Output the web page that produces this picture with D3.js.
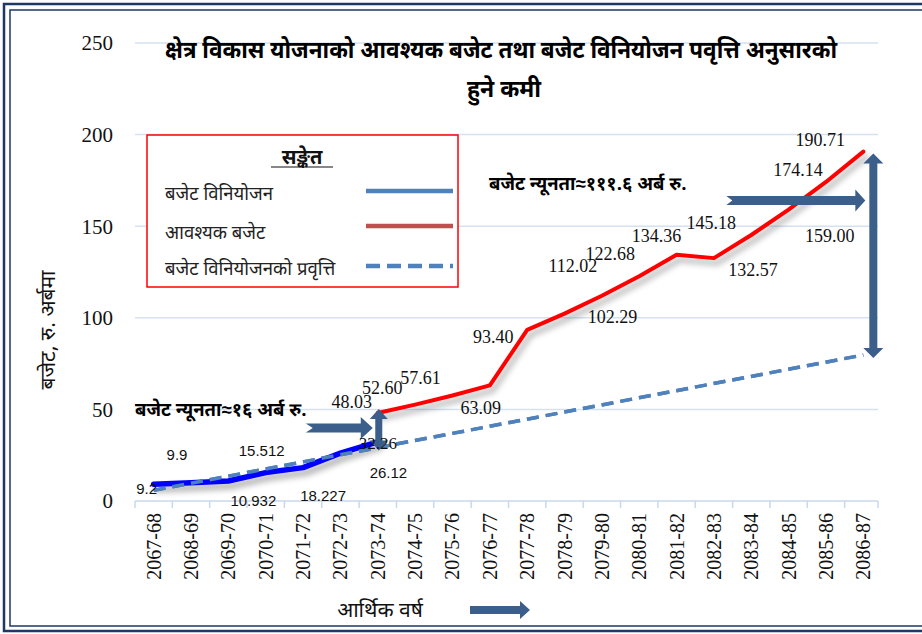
<!DOCTYPE html>
<html><head><meta charset="utf-8">
<script src="https://cdn.jsdelivr.net/npm/d3@7"></script>
<style>
html,body{margin:0;padding:0;background:#fff;}
svg{display:block;}
</style></head>
<body>
<script>
// ---------- DATA ----------
const categories = ["2067-68","2068-69","2069-70","2070-71","2071-72","2072-73","2073-74","2074-75","2075-76","2076-77","2077-78","2078-79","2079-80","2080-81","2081-82","2082-83","2083-84","2084-85","2085-86","2086-87"];
const allocCategories = ["2067-68","2068-69","2069-70","2070-71","2071-72","2072-73","2073-74"];
const allocValues = [9.2, 9.9, 10.932, 15.512, 18.227, 26.12, 32.26];
const allocLabels = ["9.2","9.9","10.932","15.512","18.227","26.12","32.26"];
const reqCategories = ["2073-74","2074-75","2075-76","2076-77","2077-78","2078-79","2079-80","2080-81","2081-82","2082-83","2083-84","2084-85","2085-86","2086-87"];
const reqValues = [48.03, 52.60, 57.61, 63.09, 93.40, 102.29, 112.02, 122.68, 134.36, 132.57, 145.18, 159.00, 174.14, 190.71];
const reqLabels = ["48.03","52.60","57.61","63.09","93.40","102.29","112.02","122.68","134.36","132.57","145.18","159.00","174.14","190.71"];
const trendCategories = ["2067-68","2086-87"];
const trendValues = [5.8, 79.7];
const yTicks = [0, 50, 100, 150, 200, 250];
const titleLines = ["क्षेत्र विकास योजनाको आवश्यक बजेट तथा बजेट विनियोजन पवृत्ति अनुसारको", "हुने कमी"];
const legendTitle = "सङ्केत";
const legendNames = ["बजेट विनियोजन", "आवश्यक बजेट", "बजेट विनियोजनको प्रवृत्ति"];
const yTitle = "बजेट, रु. अर्बमा";
const xTitle = "आर्थिक वर्ष";
const gapNote1 = "बजेट न्यूनता≈१६ अर्ब रु.";
const gapNote2 = "बजेट न्यूनता≈१११.६ अर्ब रु.";

// ---------- LAYOUT (label offsets, px) ----------
const allocLabelOffsets = [[-7,5],[-14,-28],[25,20],[-4,-22],[20,28],[48,20],[0,1]];
const reqLabelOffsets = [[-26,-11],[-33,-17],[-32,-18],[-9,22],[-34,7],[48,3],[-29,-30],[-29,-23],[-20,-19],[39,12],[-40,-12],[41,26],[-28,-12],[-43,-12]];

const W = 922, H = 634;
const DEV = "'Noto Sans Devanagari','Lohit Devanagari','Noto Sans',sans-serif";
const SERIF = "'Liberation Serif','Times New Roman',serif";
const SANS = "'Liberation Sans',Arial,sans-serif";

const svg = d3.select("body").append("svg").attr("width", W).attr("height", H);
const defs = svg.append("defs");
const f = defs.append("filter").attr("id","shadow").attr("x","-10%").attr("y","-20%").attr("width","130%").attr("height","160%");
f.append("feDropShadow").attr("dx",3).attr("dy",5).attr("stdDeviation",3).attr("flood-color","#000").attr("flood-opacity",0.35);

svg.append("rect").attr("width",W).attr("height",H).attr("fill","#fff");
// double border
svg.append("rect").attr("x",4).attr("y",4).attr("width",W+20).attr("height",H-7).attr("fill","none").attr("stroke","#1f3864").attr("stroke-width",2.5);
svg.append("rect").attr("x",10).attr("y",10).attr("width",W+20).attr("height",H-18).attr("fill","none").attr("stroke","#1f3864").attr("stroke-width",1.5);

const x = d3.scaleBand().domain(categories).range([135, 882]);
const xc = c => x(c) + x.bandwidth()/2;
const y = d3.scaleLinear().domain([0, 250]).range([501, 43]);

// gridlines
svg.append("g").selectAll("line").data(yTicks.filter(d=>d>0)).join("line")
  .attr("x1",135).attr("x2",878).attr("y1",d=>y(d)).attr("y2",d=>y(d))
  .attr("stroke","#d5e1f1").attr("stroke-width",1.5);

// y tick labels
svg.append("g").selectAll("text").data(yTicks).join("text")
  .attr("x",113).attr("y",d=>y(d)).attr("dy","0.35em").attr("text-anchor","end")
  .attr("font-family",SERIF).attr("font-size",21).attr("fill","#111").text(d=>d);

// x axis
const xAxis = svg.append("g");
xAxis.append("line").attr("x1",135).attr("x2",878).attr("y1",y(0)).attr("y2",y(0)).attr("stroke","#c9d8ee").attr("stroke-width",1.5);
const bounds = categories.map(c=>x(c)).concat([x(categories[categories.length-1])+x.bandwidth()]);
xAxis.selectAll("line.tk").data(bounds).join("line").attr("class","tk")
  .attr("x1",d=>Math.min(d,878)).attr("x2",d=>Math.min(d,878)).attr("y1",y(0)).attr("y2",y(0)+7)
  .attr("stroke","#c9d8ee").attr("stroke-width",1.5);
xAxis.selectAll("text").data(categories).join("text")
  .attr("transform",d=>`translate(${xc(d)+7},${y(0)+12}) rotate(-90)`)
  .attr("text-anchor","end").attr("font-family",SERIF).attr("font-size",20).attr("fill","#111").text(d=>d);

// trend (dashed)
const trendPts = trendCategories.map((c,i)=>[xc(c),y(trendValues[i])]);
svg.append("path").datum(trendPts)
  .attr("d",d3.line()).attr("fill","none").attr("stroke","#4f81bd").attr("stroke-width",3.5)
  .attr("stroke-dasharray","12,7");

// allocation line (blue)
const line = d3.line().x(d=>xc(d.c)).y(d=>y(d.v));
svg.append("path").datum(allocCategories.map((c,i)=>({c,v:allocValues[i]})))
  .attr("d",line).attr("fill","none").attr("stroke","#0000ff").attr("stroke-width",5.5)
  .attr("stroke-linejoin","round").attr("stroke-linecap","round").attr("filter","url(#shadow)");
svg.append("path").datum(trendPts)
  .attr("d",d3.line()).attr("fill","none").attr("stroke","#4f81bd").attr("stroke-width",3.5)
  .attr("stroke-dasharray","12,7");

// required line (red)
svg.append("path").datum(reqCategories.map((c,i)=>({c,v:reqValues[i]})))
  .attr("d",line).attr("fill","none").attr("stroke","#ff0000").attr("stroke-width",4)
  .attr("stroke-linejoin","round").attr("stroke-linecap","round").attr("filter","url(#shadow)");

// arrows
const arrowColor = "#3b5e8a";
function hArrow(x1, x2, yy, shaft, head, headLen, notch){
  const h=shaft/2, H2=head/2;
  const p = [[x1,yy-h],[x2-headLen,yy-h],[x2-headLen,yy-H2],[x2,yy],[x2-headLen,yy+H2],[x2-headLen,yy+h],[x1,yy+h]];
  if(notch) p.push([x1+notch,yy]);
  svg.append("path").attr("d","M"+p.map(q=>q.join(",")).join("L")+"Z").attr("fill",arrowColor);
}
function vDouble(xx, y1, y2, shaft, head, headLen){
  const h=shaft/2, H2=head/2;
  const p=[[xx,y1],[xx+H2,y1+headLen],[xx+h,y1+headLen],[xx+h,y2-headLen],[xx+H2,y2-headLen],[xx,y2],[xx-H2,y2-headLen],[xx-h,y2-headLen],[xx-h,y1+headLen],[xx-H2,y1+headLen]];
  svg.append("path").attr("d","M"+p.map(q=>q.join(",")).join("L")+"Z").attr("fill",arrowColor);
}
hArrow(xc("2073-74")-72, xc("2073-74")-5, 428, 9, 22, 12, 7);
vDouble(xc("2073-74")+1, y(reqValues[0])-4, y(trendValues[0] + (trendValues[1]-trendValues[0])*6/19)+3, 7, 18, 10);
hArrow(xc("2086-87")-137, xc("2086-87")+2, y(164), 9, 22, 10, 6);
vDouble(xc("2086-87")+10, y(reqValues[reqValues.length-1])+2, y(trendValues[1])+3, 8, 20, 10);
hArrow(470, 530, 610, 8, 18, 10, 0);

// data labels
svg.append("g").selectAll("text").data(allocValues).join("text")
  .attr("x",(d,i)=>xc(allocCategories[i])+allocLabelOffsets[i][0])
  .attr("y",(d,i)=>y(d)+allocLabelOffsets[i][1]).attr("dy","0.35em")
  .attr("text-anchor","middle").attr("font-family",(d,i)=>i===6?SERIF:SANS)
  .attr("font-size",(d,i)=>i===6?17:15).attr("fill","#111").text((d,i)=>allocLabels[i]);
svg.append("g").selectAll("text").data(reqValues).join("text")
  .attr("x",(d,i)=>xc(reqCategories[i])+reqLabelOffsets[i][0])
  .attr("y",(d,i)=>y(d)+reqLabelOffsets[i][1]).attr("dy","0.35em")
  .attr("text-anchor","middle").attr("font-family",SERIF).attr("font-size",18).attr("fill","#111")
  .text((d,i)=>reqLabels[i]);

// title
svg.append("g").selectAll("text").data(titleLines).join("text")
  .attr("x",(d,i)=>i===0?501:504).attr("y",(d,i)=>i===0?58:97).attr("text-anchor","middle")
  .attr("font-family",DEV).attr("font-weight","bold").attr("font-size",24).attr("fill","#000")
  .attr("textLength",(d,i)=>i===0?672:74).attr("lengthAdjust","spacingAndGlyphs")
  .text(d=>d);

// legend
const lg = svg.append("g");
lg.append("rect").attr("x",147).attr("y",135).attr("width",311).attr("height",152)
  .attr("fill","#fff").attr("stroke","#ff0000").attr("stroke-width",1.5);
lg.append("text").attr("x",302).attr("y",164).attr("text-anchor","middle")
  .attr("font-family",DEV).attr("font-weight","bold").attr("font-size",20).attr("fill","#111").text(legendTitle);
lg.append("line").attr("x1",271).attr("x2",333).attr("y1",167).attr("y2",167).attr("stroke","#111").attr("stroke-width",1.2);
const legendColors = ["#4f81bd","#c0504d","#4f81bd"];
const legendRowY = [194, 233, 269];
legendNames.forEach((n,i)=>{
  lg.append("text").attr("x",165).attr("y",legendRowY[i]).attr("dy","0.35em")
    .attr("font-family",DEV).attr("font-size",18.5).attr("fill","#222").text(n);
  lg.append("line").attr("x1",366).attr("x2",453).attr("y1",legendRowY[i]-3-(i===1?4:0)).attr("y2",legendRowY[i]-3-(i===1?4:0))
    .attr("stroke",legendColors[i]).attr("stroke-width",4.5)
    .attr("stroke-dasharray",i===2?"14,7":null);
});

// gap notes
svg.append("text").attr("x",135).attr("y",410).attr("dy","0.35em")
  .attr("font-family",DEV).attr("font-weight","bold").attr("font-size",18.5).attr("fill","#000").text(gapNote1);
svg.append("text").attr("x",489).attr("y",184).attr("dy","0.35em")
  .attr("font-family",DEV).attr("font-weight","bold").attr("font-size",18.5).attr("fill","#000").text(gapNote2);

// axis titles
svg.append("text").attr("transform","translate(48,330) rotate(-90)").attr("text-anchor","middle").attr("dy","0.35em")
  .attr("font-family",DEV).attr("font-size",21).attr("fill","#111").text(yTitle);
svg.append("text").attr("x",380).attr("y",610).attr("text-anchor","middle").attr("dy","0.35em")
  .attr("font-family",DEV).attr("font-size",21).attr("fill","#111").text(xTitle);
</script>
</body></html>
